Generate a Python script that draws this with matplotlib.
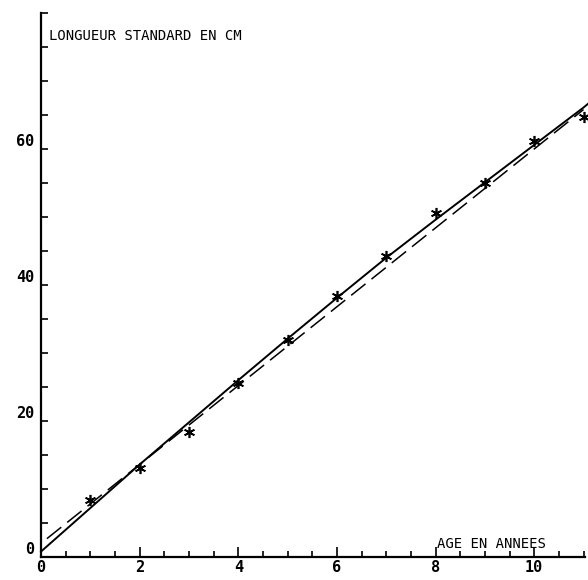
"""
Croissance en longueur standard selon l'age.
"""

import numpy as np
import matplotlib
matplotlib.use("Agg")
import matplotlib.pyplot as plt

# observed mean lengths (asterisks)
ages = [1, 2, 3, 4, 5, 6, 7, 8, 9, 10, 11]
lengths = [8.4, 13.1, 18.4, 25.6, 31.9, 38.4, 44.3, 50.6, 55.0, 61.2, 64.7]

# fitted growth curve (solid), read at integer ages
curve_ages = [0, 1, 2, 3, 4, 5, 6, 7, 8, 9, 10, 11, 11.1]
curve_lengths = [0.8, 7.2, 13.6, 19.8, 26.0, 32.1, 38.1, 44.0, 49.6, 55.1, 60.6, 66.1, 66.7]

# linear regression (dashed)
line_ages = [0.12, 11.0]
line_lengths = [2.7, 65.8]

xtick_vals = [0, 2, 4, 6, 8, 10]
ytick_vals = [0, 20, 40, 60]

mono = "DejaVu Sans Mono"

fig = plt.figure(figsize=(5.88, 5.80), dpi=100)
ax = fig.add_axes([41 / 588, 23 / 580, 544 / 588, 544 / 580])

ax.plot(curve_ages, curve_lengths, color="black", lw=1.4, clip_on=False)
ax.plot(line_ages, line_lengths, color="black", lw=1.1, dashes=(12, 5))
ax.plot(ages, lengths, linestyle="none", marker=(6, 2, 0), markersize=8,
        markeredgewidth=1.2, color="black", clip_on=False)

ax.set_xlim(0, 11.03)
ax.set_ylim(0, 80)

for side in ["top", "right"]:
    ax.spines[side].set_visible(False)
ax.spines["left"].set_linewidth(1.6)
ax.spines["bottom"].set_linewidth(1.6)

# ticks inward, every half year and every 5 cm
ax.set_xticks(xtick_vals, [str(v) for v in xtick_vals], fontfamily=mono,
              fontsize=11, fontweight="bold")
ax.set_xticks(np.arange(0, 11.01, 0.5), minor=True)
ax.set_yticks(ytick_vals, [str(v) for v in ytick_vals], fontfamily=mono,
              fontsize=11, fontweight="bold")
ax.set_yticks(np.arange(0, 80.1, 5), minor=True)
ax.tick_params(axis="both", which="both", direction="in", width=1.2, colors="black")
ax.tick_params(axis="x", which="major", length=7, pad=2)
ax.tick_params(axis="x", which="minor", length=4)
ax.tick_params(axis="y", which="major", length=5, pad=5)
ax.tick_params(axis="y", which="minor", length=5)
for lab in ax.get_yticklabels():
    lab.set_verticalalignment("bottom")

ax.text(0.16, 76.0, "LONGUEUR STANDARD EN CM", fontfamily=mono, fontsize=10,
        ha="left", va="baseline")
ax.text(8.02, 1.3, "AGE EN ANNEES", fontfamily=mono, fontsize=10,
        ha="left", va="baseline")

fig.savefig("out.png", dpi=100, facecolor="white")
